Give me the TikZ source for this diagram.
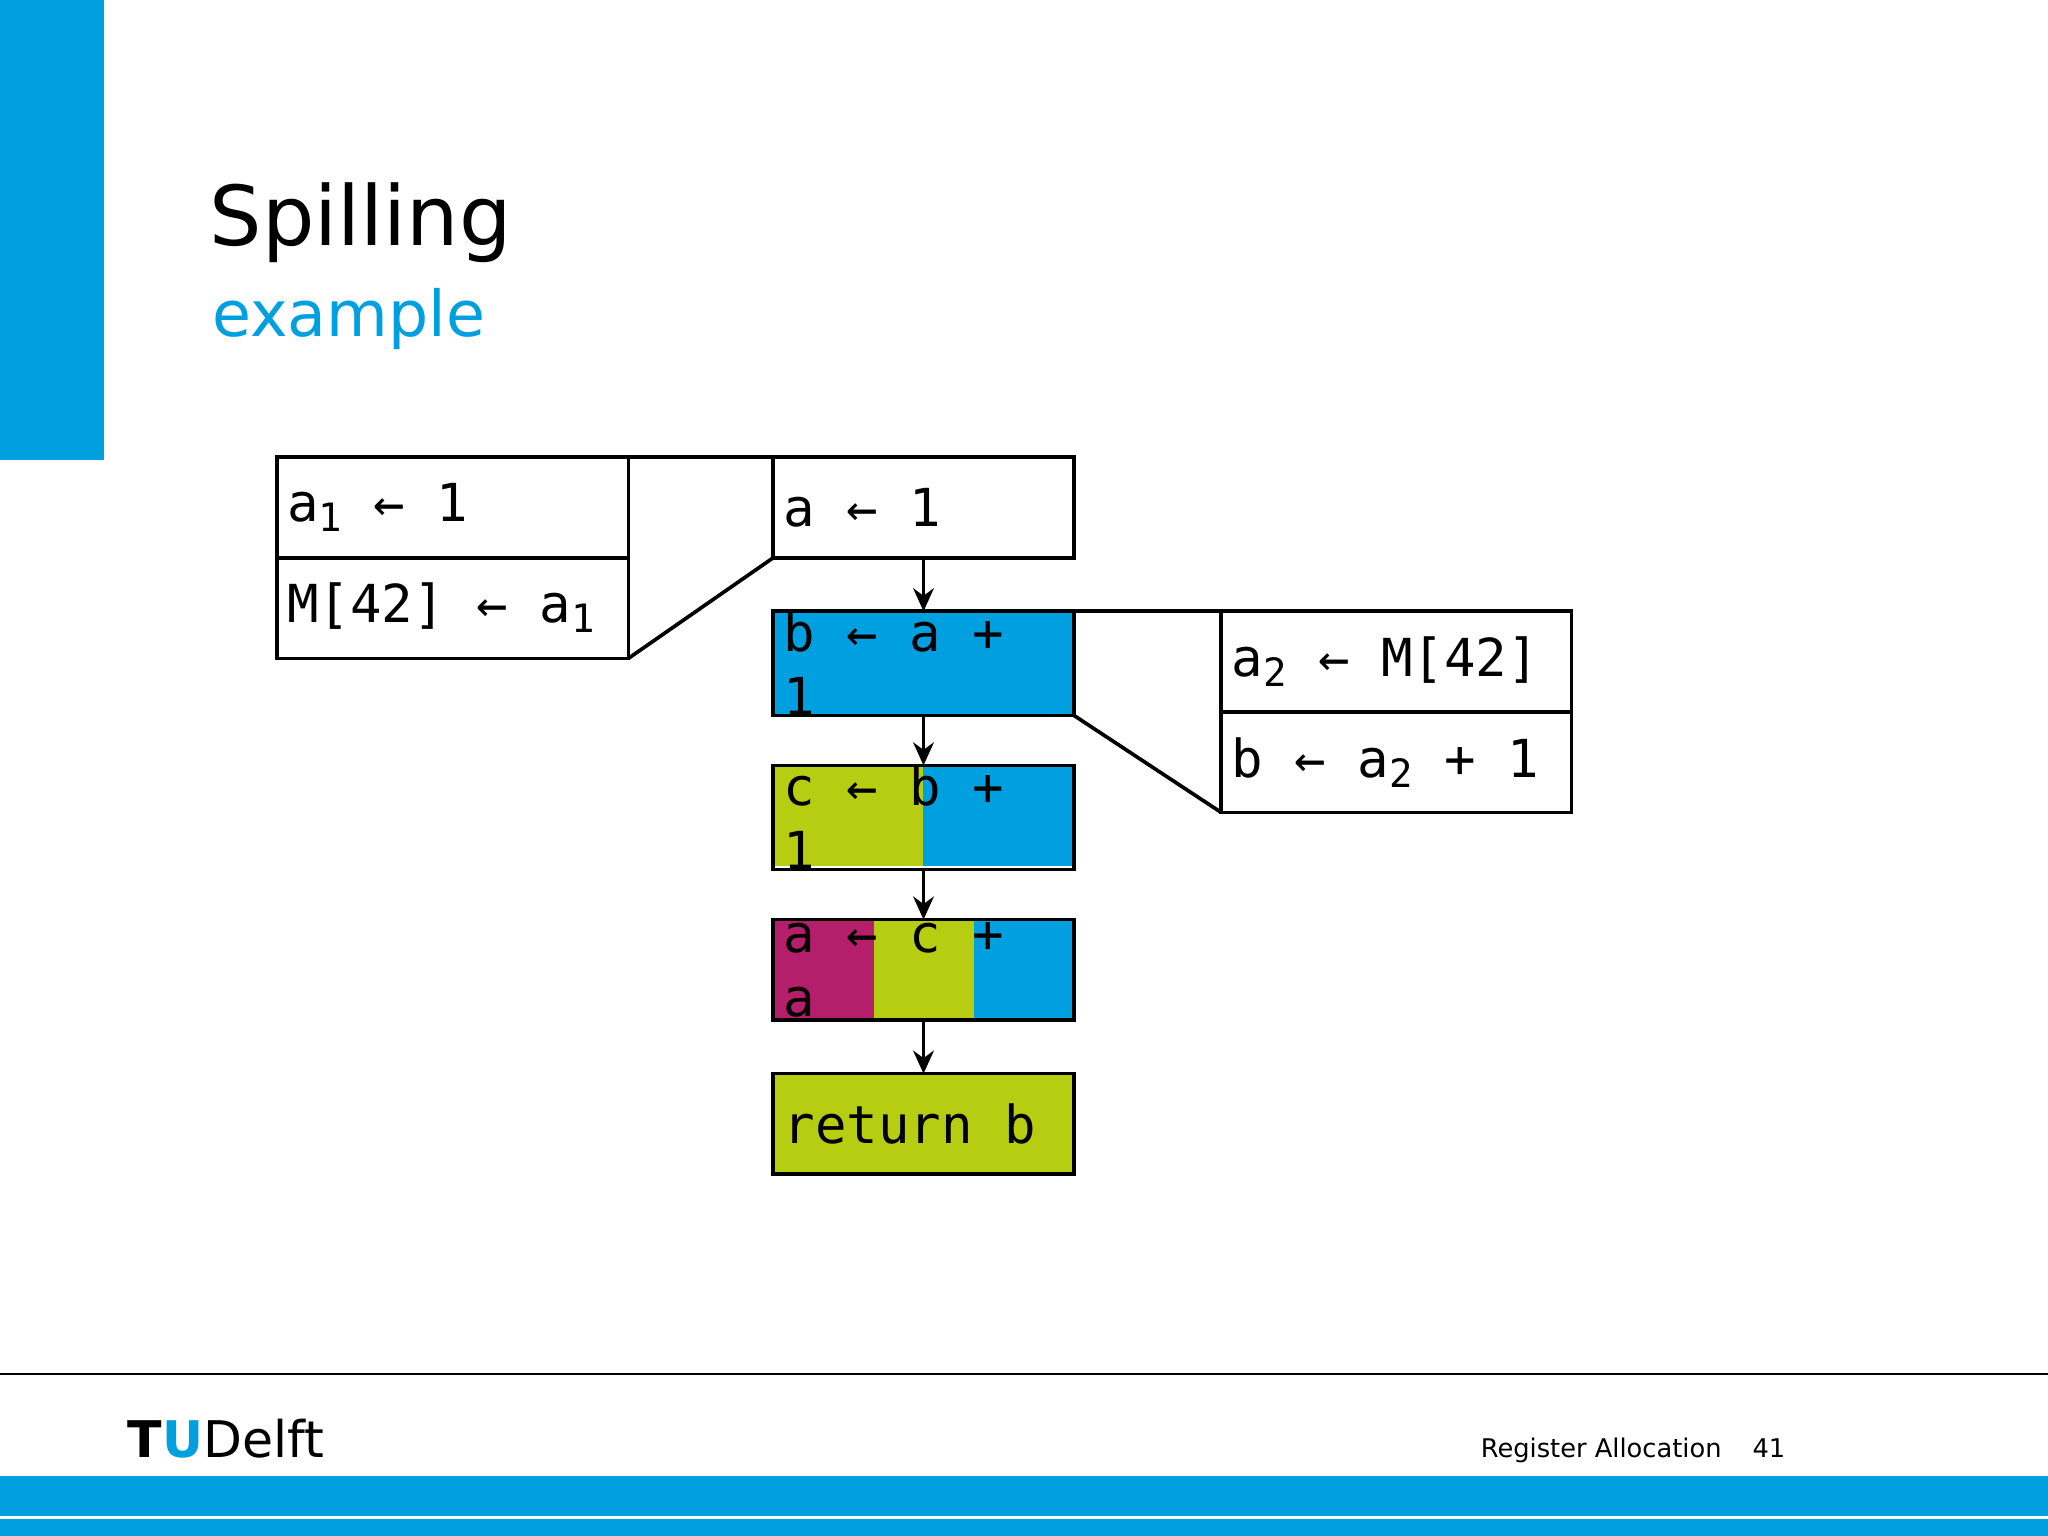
\documentclass[tikz,border=0pt]{standalone}
\usepackage{fontspec}
\setmainfont{DejaVu Sans}
\newfontfamily\monof{DejaVu Sans Mono}
\usetikzlibrary{arrows.meta}
\definecolor{tublue}{HTML}{00A0E0}
\definecolor{tugreen}{HTML}{B6CD12}
\definecolor{tumag}{HTML}{B41E6A}
\newcommand{\sbs}[1]{\raisebox{-0.35ex}{\fontsize{8.5pt}{9pt}\selectfont #1}}
\newcommand{\sk}{\hspace{0.602em}}
\tikzset{
 cbox/.style={draw=black, line width=0.8pt, outer sep=0pt, anchor=north west, minimum height=0.77cm, inner xsep=0.08cm, inner ysep=0pt, align=left, font=\monof\fontsize{11.4pt}{14pt}\selectfont},
 conn/.style={line width=0.8pt},
 arr/.style={line width=0.8pt, -{Stealth[length=5pt,width=4.5pt]}}
}
\begin{document}
\begin{tikzpicture}[x=0.01cm,y=-0.01cm]
\useasboundingbox (0,0) rectangle (1568,1176);
\fill[tublue] (0,0) rectangle (80,352);
\node[anchor=base west, inner sep=0, font=\fontsize{18pt}{20pt}\selectfont] (title) at (160,188) {Spilling};
\node[anchor=base west, inner sep=0, text=tublue, font=\fontsize{13.8pt}{16pt}\selectfont] (sub) at (162,258) {example};
% left block
\node[cbox, text width=2.53cm] (l1) at (212,350) {a\sbs{1}\sk←\sk1};
\node[cbox, text width=2.53cm] (l2) at (212,427) {M[42]\sk←\sk a\sbs{1}};
% center
\node[cbox, text width=2.14cm] (c1) at (592,350) {a\sk←\sk1};
\node[cbox, text width=2.14cm, fill=tublue] (c2) at (592,468) {b\sk←\sk a\sk+\sk1};
\fill[tugreen] (592,586) rectangle (707,663);
\fill[tublue] (707,586) rectangle (822,663);
\node[cbox, text width=2.14cm] (c3) at (592,586) {c\sk←\sk b\sk+\sk1};
\fill[tumag] (592,704) rectangle (669,781);
\fill[tugreen] (669,704) rectangle (746,781);
\fill[tublue] (746,704) rectangle (822,781);
\node[cbox, text width=2.14cm] (c4) at (592,704) {a\sk←\sk c\sk+\sk a};
\node[cbox, text width=2.14cm, fill=tugreen] (c5) at (592,822) {return\sk b};
% right
\node[cbox, text width=2.52cm] (r1) at (935,468) {a\sbs{2}\sk←\sk M[42]};
\node[cbox, text width=2.52cm] (r2) at (935,545) {b\sk←\sk a\sbs{2}\sk+\sk1};
% connectors
\draw[conn] (l1.north east) -- (c1.north west);
\draw[conn] (l2.south east) -- (c1.south west);
\draw[conn] (c2.north east) -- (r1.north west);
\draw[conn] (c2.south east) -- (r2.south west);
\draw[arr] (c1.south) -- (c2.north);
\draw[arr] (c2.south) -- (c3.north);
\draw[arr] (c3.south) -- (c4.north);
\draw[arr] (c4.south) -- (c5.north);
% footer
\draw[line width=0.5pt] (0,1052) -- (1568,1052);
\node[anchor=base west, inner sep=0, font=\bfseries\fontsize{11pt}{12pt}\selectfont] (logo) at (97,1116) {T\textcolor{tublue}{U}\mdseries Delft};
\node[anchor=base west, inner sep=0, font=\fontsize{5.6pt}{7pt}\selectfont] (foot) at (1133,1116) {Register Allocation\hspace{1.2em}41};
\fill[tublue] (0,1130) rectangle (1568,1176);
\draw[white, line width=0.6pt] (0,1162) -- (1568,1162);
\end{tikzpicture}
\end{document}
